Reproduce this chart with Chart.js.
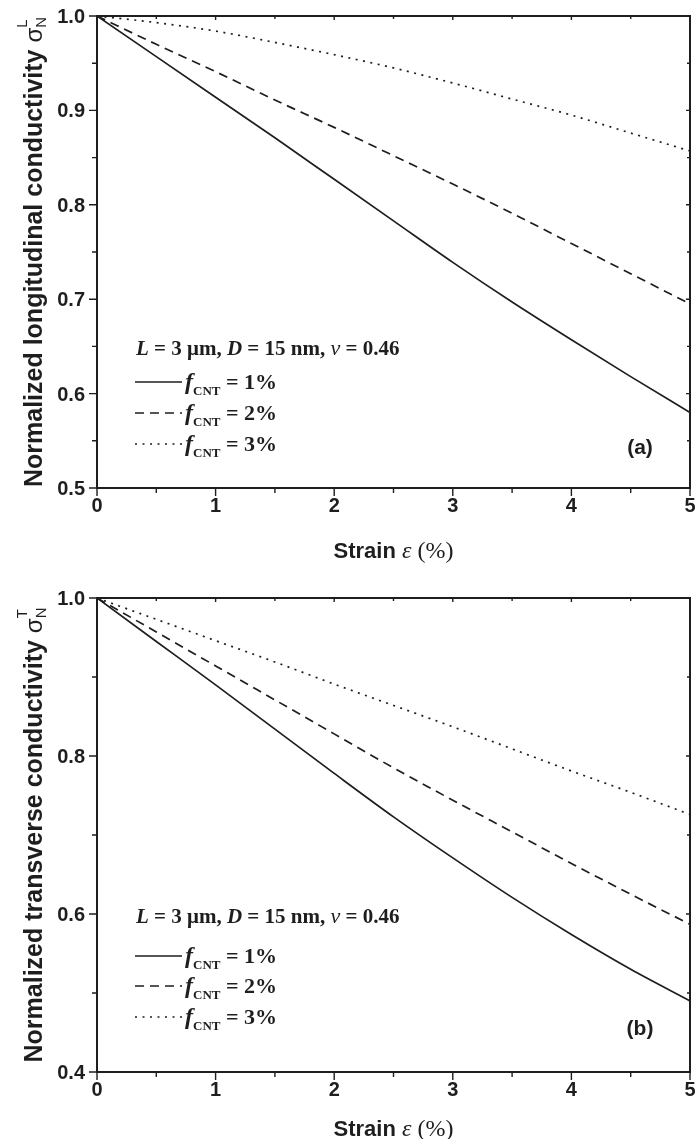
<!DOCTYPE html>
<html><head><meta charset="utf-8">
<script src="https://cdn.jsdelivr.net/npm/chart.js@4/dist/chart.umd.min.js"></script>
<style>
body{margin:0;background:#fff;width:695px;height:1139px;position:relative;overflow:hidden}
canvas{position:absolute;left:0}
</style>
</head><body>
<canvas id="c1" width="695" height="575" style="top:0px"></canvas>
<canvas id="c2" width="695" height="564" style="top:575px"></canvas>
<script>
// ---- data ----
const strain = [0, 0.5, 1, 1.5, 2, 2.5, 3, 3.5, 4, 4.5, 5];
const longF1 = [1.000, 0.957, 0.914, 0.871, 0.827, 0.783, 0.739, 0.697, 0.657, 0.618, 0.580];
const longF2 = [1.000, 0.970, 0.941, 0.911, 0.882, 0.852, 0.822, 0.791, 0.759, 0.727, 0.695];
const longF3 = [1.000, 0.993, 0.984, 0.972, 0.959, 0.945, 0.929, 0.912, 0.895, 0.876, 0.857];
const transF1 = [1.000, 0.945, 0.890, 0.834, 0.778, 0.723, 0.671, 0.621, 0.574, 0.530, 0.490];
const transF2 = [1.000, 0.957, 0.914, 0.871, 0.828, 0.785, 0.744, 0.704, 0.664, 0.625, 0.587];
const transF3 = [1.000, 0.973, 0.946, 0.919, 0.891, 0.864, 0.837, 0.809, 0.781, 0.754, 0.726];
const seriesNames = ['1%', '2%', '3%'];
const xMajorTicks = [0, 1, 2, 3, 4, 5];
const xMinorTicks = [0.5, 1.5, 2.5, 3.5, 4.5];
const topYMajor = [0.5, 0.6, 0.7, 0.8, 0.9, 1.0];
const topYMinor = [0.55, 0.65, 0.75, 0.85, 0.95];
const botYMajor = [0.4, 0.6, 0.8, 1.0];
const botYMinor = [0.5, 0.7, 0.9];

const SANS = '"Liberation Sans", Arial, sans-serif';
const SERIF = '"Liberation Serif", "Times New Roman", serif';
const INK = '#1e1e1e';
const DASHES = [[], [9, 6], [2, 5.5]];

function partWidth(ctx, p) {
  ctx.font = p.font;
  if (p.sup !== undefined) {
    return Math.max(ctx.measureText(p.sup).width, ctx.measureText(p.sub).width) * (p.sx || 1);
  }
  return ctx.measureText(p.t).width * (p.sx || 1);
}
function richWidth(ctx, parts) { return parts.reduce((s, p) => s + partWidth(ctx, p), 0); }
function drawRich(ctx, parts, x, y) {
  let cx = x;
  parts.forEach(p => {
    const w = partWidth(ctx, p);
    ctx.font = p.font;
    if (p.sup !== undefined) {
      ctx.save(); ctx.translate(cx, y + p.supDy); ctx.scale(p.sx || 1, 1); ctx.fillText(p.sup, 0, 0); ctx.restore();
      ctx.save(); ctx.translate(cx, y + p.subDy); ctx.scale(p.sx || 1, 1); ctx.fillText(p.sub, 0, 0); ctx.restore();
    } else {
      ctx.save(); ctx.translate(cx, y + (p.dy || 0)); ctx.scale(p.sx || 1, 1); ctx.fillText(p.t, 0, 0); ctx.restore();
    }
    cx += w;
  });
}

const deco = {
  id: 'deco',
  afterDraw(chart) {
    const o = chart.options.plugins.deco;
    const ctx = chart.ctx, a = chart.chartArea;
    const xs = chart.scales.x, ys = chart.scales.y;
    ctx.save();
    ctx.fillStyle = INK; ctx.strokeStyle = INK;
    // frame
    ctx.lineWidth = 2;
    ctx.strokeRect(a.left, a.top, a.right - a.left, a.bottom - a.top);
    ctx.lineWidth = 1.4;
    ctx.beginPath();
    xMajorTicks.forEach(v => { const p = xs.getPixelForValue(v);
      ctx.moveTo(p, a.bottom); ctx.lineTo(p, a.bottom + 8);
      ctx.moveTo(p, a.top); ctx.lineTo(p, a.top + 4); });
    xMinorTicks.forEach(v => { const p = xs.getPixelForValue(v);
      ctx.moveTo(p, a.bottom); ctx.lineTo(p, a.bottom + 5);
      ctx.moveTo(p, a.top); ctx.lineTo(p, a.top + 3); });
    o.yMajor.forEach(v => { const p = ys.getPixelForValue(v);
      ctx.moveTo(a.left, p); ctx.lineTo(a.left - 8, p);
      ctx.moveTo(a.right, p); ctx.lineTo(a.right - 4, p); });
    o.yMinor.forEach(v => { const p = ys.getPixelForValue(v);
      ctx.moveTo(a.left, p); ctx.lineTo(a.left - 5, p);
      ctx.moveTo(a.right, p); ctx.lineTo(a.right - 3, p); });
    ctx.stroke();
    // tick labels
    ctx.textBaseline = 'alphabetic';
    const tf = 'bold 20px ' + SANS;
    xMajorTicks.forEach(v => {
      const p = xs.getPixelForValue(v);
      const parts = [{t: String(v), font: tf}];
      drawRich(ctx, parts, p - richWidth(ctx, parts) / 2, a.bottom + 24);
    });
    o.yMajor.forEach(v => {
      const p = ys.getPixelForValue(v);
      const parts = [{t: v.toFixed(1), font: tf}];
      drawRich(ctx, parts, 85 - richWidth(ctx, parts), p + 7);
    });
    // x title
    const xt = [
      {t: 'Strain ', font: 'bold 22px ' + SANS},
      {t: '\u03B5', font: 'italic 24px ' + SERIF},
      {t: ' (%)', font: '24px ' + SERIF}
    ];
    const xc = (a.left + a.right) / 2;
    drawRich(ctx, xt, xc - richWidth(ctx, xt) / 2, o.xTitleY);
    // y title rotated
    const yt = [
      {t: o.yTitle + ' ', font: 'bold 25px ' + SANS},
      {t: '\u03C3', font: '24px ' + SANS},
      {sup: o.ySup, sub: 'N', font: '15px ' + SANS, supDy: -15, subDy: 4}
    ];
    ctx.save();
    ctx.translate(o.yTitleX, (a.top + a.bottom) / 2);
    ctx.rotate(-Math.PI / 2);
    drawRich(ctx, yt, -richWidth(ctx, yt) / 2, 0);
    ctx.restore();
    // legend header
    const B = 'bold 21px ' + SERIF, BI = 'italic bold 21px ' + SERIF;
    const hdr = [
      {t: 'L', font: BI}, {t: ' = 3 \u03BCm, ', font: B},
      {t: 'D', font: BI}, {t: ' = 15 nm, ', font: B},
      {t: '\u03BD', font: 'italic 22px ' + SERIF}, {t: ' = 0.46', font: B}
    ];
    drawRich(ctx, hdr, 136, o.hdrY);
    // legend rows
    o.rowY.forEach((ry, i) => {
      ctx.save();
      ctx.lineWidth = 1.7; ctx.setLineDash(DASHES[i]);
      ctx.beginPath(); ctx.moveTo(135, ry); ctx.lineTo(182, ry); ctx.stroke();
      ctx.restore();
      const row = [
        {t: 'f', font: 'italic bold 24px ' + SERIF},
        {t: 'CNT', font: 'bold 13px ' + SERIF, dy: 6},
        {t: ' = ' + seriesNames[i], font: 'bold 22px ' + SERIF}
      ];
      drawRich(ctx, row, 185, ry + 7);
    });
    // panel label
    const pl = [{t: o.panel, font: 'bold 21px ' + SANS}];
    drawRich(ctx, pl, 640 - richWidth(ctx, pl) / 2, o.panelY);
    ctx.restore();
  }
};

function buildChart(id, arrays, yMin, yMax, pad, opts) {
  return new Chart(document.getElementById(id), {
    type: 'line',
    data: {datasets: arrays.map((arr, i) => ({
      label: 'fCNT = ' + seriesNames[i],
      data: strain.map((x, k) => ({x: x, y: arr[k]})),
      borderColor: INK, borderWidth: 1.7, borderDash: DASHES[i],
      pointRadius: 0, fill: false, cubicInterpolationMode: 'monotone'}))},
    options: {
      responsive: false, devicePixelRatio: 1, animation: false,
      layout: {padding: pad},
      scales: {x: {type: 'linear', min: 0, max: 5, display: false},
               y: {type: 'linear', min: yMin, max: yMax, display: false}},
      plugins: {legend: {display: false}, tooltip: {enabled: false}, deco: opts}
    },
    plugins: [deco]
  });
}

buildChart('c1', [longF1, longF2, longF3], 0.5, 1.0,
  {left: 97, right: 5, top: 16, bottom: 87},
  {yMajor: topYMajor, yMinor: topYMinor, xTitleY: 558, yTitleX: 42,
   yTitle: 'Normalized longitudinal conductivity', ySup: 'L',
   hdrY: 355, rowY: [382, 413, 444], panel: '(a)', panelY: 454});

buildChart('c2', [transF1, transF2, transF3], 0.4, 1.0,
  {left: 97, right: 5, top: 23, bottom: 67},
  {yMajor: botYMajor, yMinor: botYMinor, xTitleY: 561, yTitleX: 42,
   yTitle: 'Normalized transverse conductivity', ySup: 'T',
   hdrY: 923 - 575, rowY: [956 - 575, 986 - 575, 1017 - 575], panel: '(b)', panelY: 1035 - 575});
</script>
</body></html>
